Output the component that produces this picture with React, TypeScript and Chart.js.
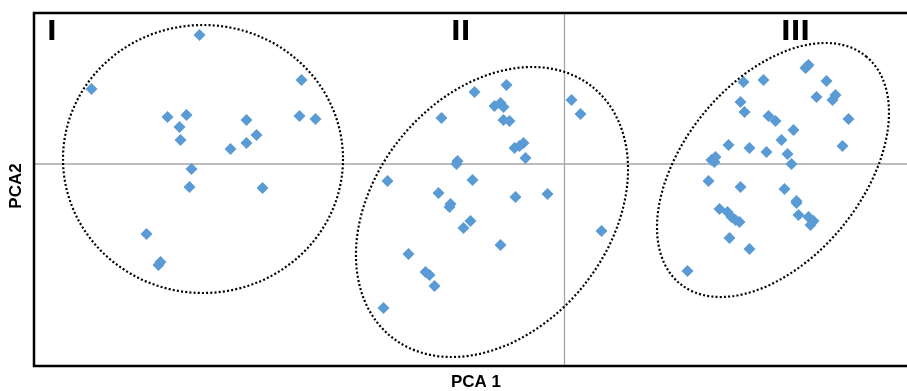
import React, { useEffect, useRef } from "react";
import { Chart, registerables } from "chart.js";
Chart.register(...registerables);

// PCA scores per cluster
const clusterIx = [-3.65, -4.73, -2.63, -3.97, -3.78, -3.85, -3.84, -3.18, -3.08, -3.18, -3.34, -2.65, -2.49, -3.73, -3.75, -3.02, -4.18, -4.06, -4.04];
const clusterIy = [1.29, 0.75, 0.84, 0.47, 0.49, 0.37, 0.24, 0.44, 0.29, 0.21, 0.15, 0.48, 0.45, -0.05, -0.23, -0.24, -0.70, -1.01, -0.98];

const clusterIIx = [-0.58, -0.90, -0.70, -0.64, -0.61, -1.23, -0.61, -0.55, 0.07, 0.16, -0.50, -0.41, -0.45, -0.39, -1.07, -1.08, -1.77, -0.92, -1.26, -0.49, -0.17, -1.14, -1.15, -0.94, -1.01, 0.37, -0.64, -1.56, -1.39, -1.35, -1.30, -1.81];
const clusterIIy = [0.79, 0.72, 0.58, 0.61, 0.57, 0.46, 0.44, 0.43, 0.64, 0.50, 0.16, 0.21, 0.18, 0.06, 0.03, 0.00, -0.17, -0.16, -0.29, -0.33, -0.30, -0.40, -0.43, -0.57, -0.64, -0.67, -0.81, -0.90, -1.08, -1.11, -1.22, -1.44];

const clusterIIIx = [2.42, 2.41, 2.44, 1.79, 1.99, 2.62, 2.52, 2.71, 2.68, 1.76, 1.80, 2.04, 2.11, 2.84, 2.29, 2.17, 1.64, 1.85, 2.02, 2.23, 2.78, 1.51, 1.47, 1.50, 2.27, 1.44, 1.76, 2.20, 2.32, 2.32, 1.55, 1.63, 1.67, 1.71, 1.75, 2.34, 2.44, 2.49, 2.46, 1.65, 1.85, 1.23];
const clusterIIIy = [0.97, 0.96, 0.99, 0.82, 0.84, 0.83, 0.67, 0.69, 0.64, 0.62, 0.52, 0.48, 0.43, 0.45, 0.34, 0.24, 0.19, 0.16, 0.12, 0.10, 0.18, 0.07, 0.04, 0.02, 0.00, -0.17, -0.23, -0.25, -0.37, -0.39, -0.45, -0.48, -0.53, -0.56, -0.58, -0.51, -0.53, -0.57, -0.61, -0.74, -0.85, -1.07];

// Cluster ellipses (data units)
const clusterLabels = ["I", "II", "III"];
const ellipseCx = [-3.615, -0.725, 2.085];
const ellipseCy = [0.05, -0.48, -0.06];
const ellipseRx = [1.40, 1.604, 1.469];
const ellipseRy = [1.34, 1.175, 0.895];
const ellipseAngleDeg = [0, 51.1, 50.7];

const xAxisTitle = "PCA 1";
const yAxisTitle = "PCA2";

const toPoints = (xs: number[], ys: number[]) => xs.map((x, i) => ({ x, y: ys[i] }));

const decorPlugin = {
  id: "decor",
  beforeDatasetsDraw(chart: any) {
    const { ctx, chartArea, scales } = chart;
    const x0 = scales.x.getPixelForValue(0);
    const y0 = scales.y.getPixelForValue(0);
    ctx.save();
    ctx.strokeStyle = "#a6a6a6";
    ctx.lineWidth = 1.3;
    ctx.beginPath();
    ctx.moveTo(x0, chartArea.top);
    ctx.lineTo(x0, chartArea.bottom);
    ctx.moveTo(chartArea.left, y0);
    ctx.lineTo(chartArea.right, y0);
    ctx.stroke();
    ctx.restore();
  },
  afterDatasetsDraw(chart: any) {
    const { ctx, scales } = chart;
    ctx.save();
    ctx.strokeStyle = "#000";
    ctx.lineWidth = 2.2;
    ctx.setLineDash([2, 2.2]);
    for (let i = 0; i < ellipseCx.length; i++) {
      const cx = scales.x.getPixelForValue(ellipseCx[i]);
      const cy = scales.y.getPixelForValue(ellipseCy[i]);
      const rx = Math.abs(scales.x.getPixelForValue(ellipseCx[i] + ellipseRx[i]) - cx);
      const ry = Math.abs(scales.y.getPixelForValue(ellipseCy[i] + ellipseRy[i]) - cy);
      ctx.beginPath();
      ctx.ellipse(cx, cy, rx, ry, (-ellipseAngleDeg[i] * Math.PI) / 180, 0, Math.PI * 2);
      ctx.stroke();
    }
    ctx.restore();
  },
  afterDraw(chart: any) {
    const { ctx, chartArea, scales } = chart;
    ctx.save();
    // frame
    ctx.strokeStyle = "#000";
    ctx.lineWidth = 2.5;
    ctx.beginPath();
    ctx.moveTo(chartArea.right + 2, chartArea.top);
    ctx.lineTo(chartArea.left, chartArea.top);
    ctx.lineTo(chartArea.left, chartArea.bottom);
    ctx.lineTo(chartArea.right + 2, chartArea.bottom);
    ctx.stroke();
    // cluster labels
    ctx.fillStyle = "#000";
    ctx.font = "bold 26px 'DejaVu Sans'";
    ctx.textAlign = "left";
    ctx.textBaseline = "alphabetic";
    const labelXs = [47, 451, 781];
    clusterLabels.forEach((t, i) => ctx.fillText(t, labelXs[i], 40));
    // axis titles
    ctx.font = "bold 17px 'Liberation Sans'";
    ctx.textAlign = "center";
    ctx.textBaseline = "middle";
    ctx.fillText(xAxisTitle, scales.x.getPixelForValue(-0.885), 382);
    ctx.translate(16, 186);
    ctx.rotate(-Math.PI / 2);
    ctx.fillText(yAxisTitle, 0, 0);
    ctx.restore();
  },
};

export default function App() {
  const ref = useRef<HTMLCanvasElement>(null);
  useEffect(() => {
    document.body.style.margin = "0";
    const canvas = ref.current!;
    const pointStyle = {
      backgroundColor: "#5b9bd5",
      borderColor: "#5b9bd5",
      borderWidth: 0,
      pointStyle: "rectRot",
      pointRadius: 6,
      pointHoverRadius: 6,
    };
    const chart = new Chart(canvas, {
      type: "scatter",
      data: {
        datasets: [
          { label: clusterLabels[0], data: toPoints(clusterIx, clusterIy), ...pointStyle },
          { label: clusterLabels[1], data: toPoints(clusterIIx, clusterIIy), ...pointStyle },
          { label: clusterLabels[2], data: toPoints(clusterIIIx, clusterIIIy), ...pointStyle },
        ],
      } as any,
      options: {
        animation: false,
        responsive: false,
        maintainAspectRatio: false,
        layout: { autoPadding: false, padding: { left: 34, top: 13, right: 0, bottom: 25 } },
        plugins: { legend: { display: false }, tooltip: { enabled: false } },
        scales: {
          x: { type: "linear", min: -5.305, max: 3.425, display: false },
          y: { type: "linear", min: -2.02, max: 1.51, display: false },
        },
      } as any,
      plugins: [decorPlugin],
    });
    return () => chart.destroy();
  }, []);
  return (
    <div style={{ width: 907, height: 391 }}>
      <canvas ref={ref} width={907} height={391} style={{ display: "block" }} />
    </div>
  );
}
